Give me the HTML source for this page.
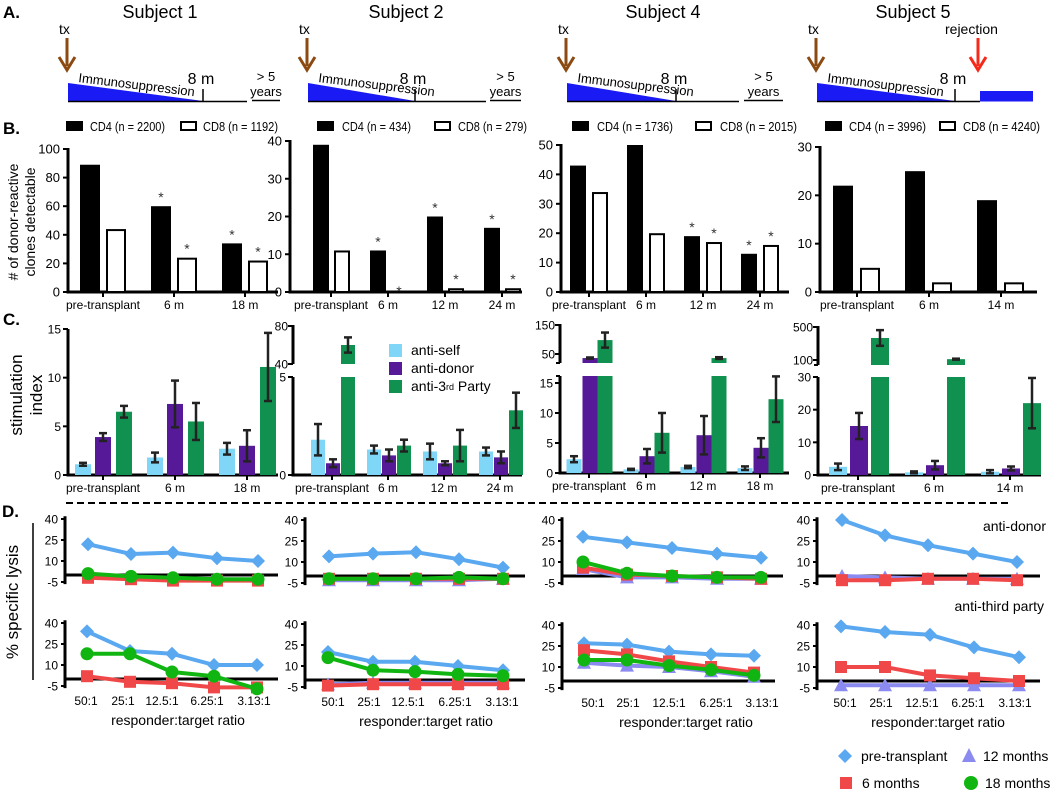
<!DOCTYPE html>
<html><head><meta charset="utf-8"><style>
html,body{margin:0;padding:0;background:#fff;}
svg{display:block;font-family:"Liberation Sans",sans-serif;}
</style></head><body>
<svg id="c" width="1050" height="791" viewBox="0 0 1050 791">
<!-- Panel letters -->
<text x="3" y="18" font-size="17" font-weight="bold">A.</text>
<text x="3" y="134" font-size="17" font-weight="bold">B.</text>
<text x="3" y="325" font-size="17" font-weight="bold">C.</text>
<text x="2" y="517" font-size="17" font-weight="bold">D.</text>
<!-- Subject titles -->
<text x="160" y="18" font-size="18" text-anchor="middle">Subject 1</text>
<text x="406" y="18" font-size="18" text-anchor="middle">Subject 2</text>
<text x="663" y="18" font-size="18" text-anchor="middle">Subject 4</text>
<text x="913" y="18" font-size="18" text-anchor="middle">Subject 5</text>
<g id="timelines"></g>
<!-- B legends -->
<g font-size="13">
<rect x="66" y="121" width="17" height="10" fill="#000"/><text x="90" y="131" textLength="75" lengthAdjust="spacingAndGlyphs">CD4 (n = 2200)</text>
<rect x="181" y="122" width="15" height="8" fill="#fff" stroke="#000" stroke-width="2"/><text x="203" y="131" textLength="75" lengthAdjust="spacingAndGlyphs">CD8 (n = 1192)</text>
<rect x="317" y="121" width="17" height="10" fill="#000"/><text x="342" y="131" textLength="69" lengthAdjust="spacingAndGlyphs">CD4 (n = 434)</text>
<rect x="435" y="122" width="15" height="8" fill="#fff" stroke="#000" stroke-width="2"/><text x="458" y="131" textLength="69" lengthAdjust="spacingAndGlyphs">CD8 (n = 279)</text>
<rect x="572" y="121" width="17" height="10" fill="#000"/><text x="597" y="131" textLength="76" lengthAdjust="spacingAndGlyphs">CD4 (n = 1736)</text>
<rect x="696" y="122" width="15" height="8" fill="#fff" stroke="#000" stroke-width="2"/><text x="720" y="131" textLength="77" lengthAdjust="spacingAndGlyphs">CD8 (n = 2015)</text>
<rect x="825" y="121" width="17" height="10" fill="#000"/><text x="849" y="131" textLength="77" lengthAdjust="spacingAndGlyphs">CD4 (n = 3996)</text>
<rect x="940" y="122" width="15" height="8" fill="#fff" stroke="#000" stroke-width="2"/><text x="963" y="131" textLength="77" lengthAdjust="spacingAndGlyphs">CD8 (n = 4240)</text>
</g>
<text transform="translate(18,222) rotate(-90)" font-size="14" text-anchor="middle">
<tspan x="0" y="0"># of donor-reactive</tspan><tspan x="0" y="17">clones detectable</tspan></text>
<text transform="translate(22,395) rotate(-90)" font-size="17" text-anchor="middle">
<tspan x="0" y="0">stimulation</tspan><tspan x="0" y="20">index</tspan></text>
<!-- C legend -->
<g font-size="14">
<rect x="389" y="344" width="13" height="13" fill="#7fd6f7"/><text x="411" y="355">anti-self</text>
<rect x="389" y="362" width="13" height="13" fill="#561a98"/><text x="411" y="373">anti-donor</text>
<rect x="389" y="380" width="13" height="13" fill="#119150"/><text x="411" y="391">anti-3<tspan font-size="9" dy="-1">rd</tspan><tspan dy="1"> Party</tspan></text>
</g>
<line x1="66" y1="503" x2="1008" y2="503" stroke="#000" stroke-width="2" stroke-dasharray="7,4"/>
<text transform="translate(18,602) rotate(-90)" font-size="17" text-anchor="middle">% specific lysis</text>
<line x1="33" y1="523" x2="33" y2="680" stroke="#000" stroke-width="1.5"/>
<text x="1046" y="531" font-size="14" text-anchor="end">anti-donor</text>
<text x="1044" y="611" font-size="14" text-anchor="end">anti-third party</text>
<!-- D legend -->
<g font-size="14">
<polygon points="845,749 852,756 845,763 838,756" fill="#5aa8f0"/><text x="861" y="761">pre-transplant</text>
<polygon points="969,748 976,762 962,762" fill="#8a8af0"/><text x="983" y="761">12 months</text>
<rect x="840" y="777" width="12" height="12" fill="#f04848"/><text x="862" y="788">6 months</text>
<circle cx="971" cy="783" r="7" fill="#11b511"/><text x="985" y="788">18 months</text>
</g>
<g id="charts"></g>
</svg>
<script>
// ===== Panel B data =====
const B1_cats=['pre-transplant','6 m','18 m'];
const B1_cd4=[89,60,34];
const B1_cd8=[44,24,22];
const B1_star4=[0,1,1];
const B1_star8=[0,1,1];
const B1_ticks=[0,20,40,60,80,100];
const B2_cats=['pre-transplant','6 m','12 m','24 m'];
const B2_cd4=[39,11,20,17];
const B2_cd8=[11,0,1,1];
const B2_star4=[0,1,1,1];
const B2_star8=[0,1,1,1];
const B2_ticks=[0,10,20,30,40];
const B4_cats=['pre-transplant','6 m','12 m','24 m'];
const B4_cd4=[43,50,19,13];
const B4_cd8=[34,20,17,16];
const B4_star4=[0,0,1,1];
const B4_star8=[0,0,1,1];
const B4_ticks=[0,10,20,30,40,50];
const B5_cats=['pre-transplant','6 m','14 m'];
const B5_cd4=[22,25,19];
const B5_cd8=[5,2,2];
const B5_star4=[0,0,0];
const B5_star8=[0,0,0];
const B5_ticks=[0,10,20,30];
// ===== Panel C data =====
const C1_self=[1.1,1.8,2.7], C1_selfErr=[0.15,0.5,0.6];
const C1_donor=[3.9,7.3,3.0], C1_donorErr=[0.4,2.4,1.6];
const C1_third=[6.5,5.5,11.1], C1_thirdErr=[0.6,1.9,3.5];
const C1_ticks=[0,5,10,15];
const C2_self=[1.8,1.3,1.2,1.2], C2_selfErr=[0.8,0.2,0.4,0.2];
const C2_donor=[0.6,1.0,0.6,0.9], C2_donorErr=[0.2,0.3,0.1,0.3];
const C2_third=[60,1.5,1.5,3.3], C2_thirdErr=[8,0.3,0.8,0.9];
const C2_ticks=[0,5], C2_upTicks=[40,80];
const C4_self=[2.3,0.6,1.0,0.8], C4_selfErr=[0.5,0.1,0.2,0.3];
const C4_donor=[36,2.8,6.3,4.2], C4_donorErr=[2,1.2,3.2,1.6];
const C4_third=[98,6.7,36,12.3], C4_thirdErr=[26,3.3,3,3.8];
const C4_ticks=[0,5,10,15], C4_upTicks=[50,150];
const C5_self=[2.5,0.8,1.0], C5_selfErr=[1.0,0.3,0.5];
const C5_donor=[15,3,2], C5_donorErr=[4,1.3,0.6];
const C5_third=[367,110,22], C5_thirdErr=[95,6,7.7];
const C5_ticks=[0,10,20,30], C5_upTicks=[100,500];
// ===== Panel D data =====
const D_ratios=['50:1','25:1','12.5:1','6.25:1','3.13:1'];
const D_ticks=[-5,10,25,40];
const D1a_pre=[22,15,16,12,10], D1a_m6=[-2,-3,-4,-4,-4], D1a_m18=[1,-1,-2,-3,-3];
const D1b_pre=[34,20,18,10,10], D1b_m6=[2,-2,-3,-6,-6], D1b_m18=[18,18,5,2,-7];
const D2a_pre=[14,16,17,12,6], D2a_m6=[-2,-2,-2,-2,-2], D2a_m12=[-3,-3,-3,-3,-2], D2a_m18=[-2,-2,-2,-1,-2];
const D2b_pre=[20,13,13,10,7], D2b_m6=[-4,-3,-3,-3,-3], D2b_m12=[-3,-2,-2,-2,-2], D2b_m18=[16,7,6,4,3];
const D4a_pre=[28,24,20,16,13], D4a_m6=[6,1,0,-1,-2], D4a_m12=[5,-1,-1,-2,-2], D4a_m18=[10,2,0,-1,-1];
const D4b_pre=[27,26,21,19,18], D4b_m6=[22,19,14,10,6], D4b_m12=[13,11,10,7,3], D4b_m18=[15,15,11,8,4];
const D5a_pre=[40,29,22,16,10], D5a_m6=[-3,-3,-2,-2,-3], D5a_m12=[0,-1,-2,-2,-2];
const D5b_pre=[39,35,33,24,17], D5b_m6=[10,10,4,2,0], D5b_m12=[-3,-3,-3,-3,-3];

const NS='http://www.w3.org/2000/svg';
const root=document.getElementById('charts');
function mk(tag,attrs,name,parent){
  const e=document.createElementNS(NS,tag);
  for(const k in attrs) e.setAttribute(k,attrs[k]);
  
  
  (parent||root).appendChild(e);
  return e;
}
function txt(x,y,s,size,anchor,name,extra){
  const t=mk('text',Object.assign({x:x,y:y,'font-size':size,'text-anchor':anchor||'middle'},extra||{}),name);
  t.textContent=s;return t;
}
function line(x1,y1,x2,y2,w,name,col){return mk('line',{x1:x1,y1:y1,x2:x2,y2:y2,stroke:col||'#000','stroke-width':w},name);}

// ===== Timelines =====
const TL=document.getElementById('timelines');
function arrow(x,col,name){
  mk('line',{x1:x,y1:38,x2:x,y2:66,stroke:col,'stroke-width':3},name,TL);
  mk('polyline',{points:(x-8)+',57 '+x+',70 '+(x+8)+',57',fill:'none',stroke:col,'stroke-width':3},name+'-head',TL);
}
function timeline(ax,te,le,ys,ye,name){
  arrow(ax,'#8b4a12','tx-arrow');
  const t=mk('text',{x:ax-8,y:34,'font-size':14},'tx-label',TL);t.textContent='tx';
  mk('polygon',{points:(ax+1)+',83 '+te+',101 '+(ax+1)+',101',fill:'#1a1af5'},'immunosuppression-wedge',TL);
  mk('line',{x1:ax+1,y1:101.5,x2:le,y2:101.5,stroke:'#000','stroke-width':1.5},'timeline-axis',TL);
  mk('line',{x1:te,y1:89,x2:te,y2:102,stroke:'#000','stroke-width':1.5},'8-month-tick',TL);
  const im=mk('text',{x:ax+11,y:82,'font-size':13,transform:'rotate(7 '+(ax+11)+' 82)'},'immunosuppression-label',TL);im.textContent='Immunosuppression';
  const m=mk('text',{x:te-2,y:84,'font-size':16,'text-anchor':'middle'},'8-month-label',TL);m.textContent='8 m';
  if(ys){
    mk('line',{x1:ys,y1:100.5,x2:ye,y2:100.5,stroke:'#000','stroke-width':1.5},'late-segment',TL);
    const y1=mk('text',{x:(ys+ye)/2,y:81,'font-size':13,'text-anchor':'middle'},'years-label',TL);y1.textContent='> 5';
    const y2=mk('text',{x:(ys+ye)/2,y:96,'font-size':13,'text-anchor':'middle'},'years-label',TL);y2.textContent='years';
  }
}
timeline(67,203,247,252,280,'s1');
timeline(307,415,486,490,521,'s2');
timeline(566,676,739,744,783,'s4');
timeline(816,955,980,null,null,'s5');
mk('rect',{x:980,y:91,width:53,height:10.5,fill:'#1a1af5'},'rejection-immunosuppression',TL);
arrow(978,'#f52a1a','rejection-arrow');
{const r=mk('text',{x:945,y:34,'font-size':14},'rejection-label',TL);r.textContent='rejection';}

// ===== Panel B =====
function drawB(c){
  const y=v=>c.y0-(v/c.max)*(c.y0-c.yTop);
  line(c.ax,c.yTop-1,c.ax,c.y0+1.5,3,'b-y-axis');
  line(c.ax-1.5,c.y0,c.axEnd,c.y0,3,'b-x-axis');
  c.ticks.forEach(t=>{line(c.ax-5,y(t),c.ax,y(t),2,'b-y-tick');txt(c.ax-8,y(t)+4.5,String(t),13,'end','b-y-tick-label');});
  c.cats.forEach((cat,i)=>{
    const cx=c.cx0+i*c.step;
    line(cx,c.y0,cx,c.y0+5,2,'b-x-tick');
    txt(cx,c.y0+17,cat,12,'middle','b-x-label');
    const v4=c.cd4[i], v8=c.cd8[i];
    mk('rect',{x:cx+c.o4-c.w/2,y:y(v4),width:c.w,height:c.y0-y(v4),fill:'#000'},'cd4-bar');
    if(v8>0){
      mk('rect',{x:cx+c.o8-c.w/2+1,y:y(v8)+1,width:c.w-2,height:Math.max(0,c.y0-y(v8)-1),fill:v8<=1.5?'#bbb':'#fff',stroke:'#000','stroke-width':2},'cd8-bar');
    }
    if(c.s4[i]) txt(cx+c.o4,y(v4)-4,'*',14,'middle','cd4-significance-star',{fill:'#333'});
    if(c.s8[i]) txt(cx+c.o8,y(v8)-4+(v8===0?8:0),'*',14,'middle','cd8-significance-star',{fill:'#333'});
  });
}
drawB({ax:68,axEnd:278,y0:292,yTop:149,max:100,ticks:B1_ticks,cats:B1_cats,cd4:B1_cd4,cd8:B1_cd8,s4:B1_star4,s8:B1_star8,cx0:103,step:71,o4:-13,o8:13,w:20});
drawB({ax:290,axEnd:522,y0:292,yTop:141,max:40,ticks:B2_ticks,cats:B2_cats,cd4:B2_cd4,cd8:B2_cd8,s4:B2_star4,s8:B2_star8,cx0:331,step:57,o4:-10,o8:11,w:16});
drawB({ax:561,axEnd:789,y0:292,yTop:145,max:50,ticks:B4_ticks,cats:B4_cats,cd4:B4_cd4,cd8:B4_cd8,s4:B4_star4,s8:B4_star8,cx0:589,step:57,o4:-11,o8:11,w:16});
drawB({ax:820,axEnd:1037,y0:292,yTop:147,max:30,ticks:B5_ticks,cats:B5_cats,cd4:B5_cd4,cd8:B5_cd8,s4:B5_star4,s8:B5_star8,cx0:857,step:72,o4:-14,o8:13,w:20});

// ===== Panel C =====
const CCOL=['#7fd6f7','#561a98','#119150'];
function drawC(c){
  const yL=v=>c.y0-(v/c.lmax)*(c.y0-c.lTopPx);
  const yU=v=>c.uBotPx-(v-c.uBotVal)/(c.uTopVal-c.uBotVal)*(c.uBotPx-c.uTopPx);
  const lowTop=c.lTop!==undefined?c.lTop:c.lTopPx;
  line(c.ax,lowTop,c.ax,c.y0+1.5,3,'c-y-axis');
  line(c.ax-1.5,c.y0,c.axEnd,c.y0,3,'c-x-axis');
  c.ticks.forEach(t=>{line(c.ax-5,yL(t),c.ax,yL(t),2,'c-y-tick');txt(c.ax-7,yL(t)+4.5,String(t),12,'end','c-y-tick-label');});
  if(c.up){
    line(c.ax,yU(c.uTopVal)-1,c.ax,c.uBot2,3,'c-upper-y-axis');
    c.up.forEach(t=>{line(c.ax-5,yU(t),c.ax,yU(t),2,'c-upper-y-tick');txt(c.ax-5,yU(t)+4.5,String(t),12,'end','c-upper-y-tick-label');});
    line(c.ax-4,c.uBot2,c.ax,c.uBot2,2,'c-break-tick');
    line(c.ax-4,lowTop,c.ax,lowTop,2,'c-break-tick');
  }
  const lmaxVal=c.lmax*(c.y0-lowTop)/(c.y0-c.lTopPx);
  c.series.forEach((s,k)=>{
    s.v.forEach((v,i)=>{
      const cx=c.cx0+i*c.step+c.off[k], x=cx-c.w/2;
      let topY, eh, el;
      if(v<=lmaxVal){
        topY=yL(v);
        mk('rect',{x:x,y:topY,width:c.w,height:c.y0-topY,fill:CCOL[k]},'c-bar-'+s.n);
        eh=yL(v+s.e[i]);el=yL(Math.max(0,v-s.e[i]));
      } else {
        mk('rect',{x:x,y:lowTop,width:c.w,height:c.y0-lowTop,fill:CCOL[k]},'c-bar-'+s.n+'-lower');
        topY=yU(v);
        mk('rect',{x:x,y:topY,width:c.w,height:c.uBot2-topY,fill:CCOL[k]},'c-bar-'+s.n+'-upper');
        eh=yU(v+s.e[i]);el=yU(v-s.e[i]);
      }
      line(cx,eh,cx,el,2.5,'c-error-bar','#222');
      line(cx-4,eh,cx+4,eh,2.5,'c-error-cap','#222');
      line(cx-4,el,cx+4,el,2.5,'c-error-cap','#222');
    });
  });
  for(let i=0;i<c.n;i++) line(c.cx0+i*c.step,c.y0,c.cx0+i*c.step,c.y0+5,2,'c-x-tick');
  c.cats.forEach((cat,i)=>txt(c.cx0+i*c.step,c.y0+17,cat,12,'middle','c-x-label'));
}
drawC({ax:68,axEnd:278,y0:475,lmax:15,lTopPx:329,ticks:C1_ticks,cx0:103,step:72,n:3,w:16,off:[-20,0,21],cats:B1_cats,
  series:[{n:'anti-self',v:C1_self,e:C1_selfErr},{n:'anti-donor',v:C1_donor,e:C1_donorErr},{n:'anti-3rd',v:C1_third,e:C1_thirdErr}]});
drawC({ax:293,axEnd:522,y0:475,lmax:5,lTopPx:377,ticks:C2_ticks,up:C2_upTicks,uBotVal:40,uTopVal:80,uBotPx:364,uTopPx:326,uBot2:364,cx0:332,step:56,n:4,w:14,off:[-14,1,16],cats:B2_cats,
  series:[{n:'anti-self',v:C2_self,e:C2_selfErr},{n:'anti-donor',v:C2_donor,e:C2_donorErr},{n:'anti-3rd',v:C2_third,e:C2_thirdErr}]});
drawC({ax:560,axEnd:789,y0:473,lmax:15,lTopPx:383,lTop:376,ticks:C4_ticks,up:C4_upTicks,uBotVal:50,uTopVal:150,uBotPx:354,uTopPx:325,uBot2:363,cx0:589,step:57,n:4,w:15,off:[-15,1,16],cats:['pre-transplant','6 m','12 m','18 m'],
  series:[{n:'anti-self',v:C4_self,e:C4_selfErr},{n:'anti-donor',v:C4_donor,e:C4_donorErr},{n:'anti-3rd',v:C4_third,e:C4_thirdErr}]});
drawC({ax:818,axEnd:1041,y0:475,lmax:30,lTopPx:377,ticks:C5_ticks,up:C5_upTicks,uBotVal:100,uTopVal:500,uBotPx:360,uTopPx:327,uBot2:365,cx0:858,step:76,n:3,w:18,off:[-20,1,22],cats:B5_cats,
  series:[{n:'anti-self',v:C5_self,e:C5_selfErr},{n:'anti-donor',v:C5_donor,e:C5_donorErr},{n:'anti-3rd',v:C5_third,e:C5_thirdErr}]});

// ===== Panel D =====
const DCOL={pre:'#5aa8f0',m6:'#f04848',m12:'#8a8af0',m18:'#11b511'};
function marker(kind,x,y){
  if(kind==='pre') mk('polygon',{points:x+','+(y-7)+' '+(x+7)+','+y+' '+x+','+(y+7)+' '+(x-7)+','+y,fill:DCOL.pre},'pre-transplant-point');
  else if(kind==='m6') mk('rect',{x:x-6,y:y-6,width:12,height:12,fill:DCOL.m6},'6-months-point');
  else if(kind==='m12') mk('polygon',{points:x+','+(y-7)+' '+(x+7)+','+(y+6)+' '+(x-7)+','+(y+6),fill:DCOL.m12},'12-months-point');
  else mk('circle',{cx:x,cy:y,r:6.5,fill:DCOL.m18},'18-months-point');
}
function drawD(c){
  const y=v=>c.y0-v*1.4;
  line(c.ax,y(42),c.ax,y(-6.5),3,'d-y-axis');
  D_ticks.forEach(t=>{line(c.ax-4,y(t),c.ax,y(t),2,'d-y-tick');txt(c.ax-7,y(t)+4.5,String(t),12,'end','d-y-tick-label');});
  line(c.ax,c.y0,c.axEnd,c.y0,3,'d-zero-line');
  ['m12','pre','m6','m18'].forEach(k=>{
    const vals=c.s[k]; if(!vals) return;
    const pts=vals.map((v,i)=>c.xs[i]+','+y(v)).join(' ');
    mk('polyline',{points:pts,fill:'none',stroke:DCOL[k],'stroke-width':4,'stroke-linejoin':'round'},'d-line-'+k);
    vals.forEach((v,i)=>marker(k,c.xs[i],y(v)));
  });
  if(c.lx){
    D_ratios.forEach((r,i)=>txt(c.lx[i],c.y0+26,r,12,'middle','d-x-tick-label'));
    txt(c.tx,c.y0+46,'responder:target  ratio',14,'middle','d-x-title');
  }
}
drawD({ax:65,axEnd:278,y0:575,xs:[88,131,173,217,258],s:{pre:D1a_pre,m6:D1a_m6,m18:D1a_m18}});
drawD({ax:65,axEnd:278,y0:679,xs:[87,130,172,214,257],s:{pre:D1b_pre,m6:D1b_m6,m18:D1b_m18},lx:[86,123,162,207,254],tx:178});
drawD({ax:305,axEnd:525,y0:576,xs:[329,373,416,459,503],s:{pre:D2a_pre,m6:D2a_m6,m12:D2a_m12,m18:D2a_m18}});
drawD({ax:305,axEnd:525,y0:680,xs:[328,373,415,458,503],s:{pre:D2b_pre,m6:D2b_m6,m12:D2b_m12,m18:D2b_m18},lx:[333,369,408,455,502],tx:426});
drawD({ax:562,axEnd:783,y0:576,xs:[583,627,672,717,761],s:{pre:D4a_pre,m6:D4a_m6,m12:D4a_m12,m18:D4a_m18}});
drawD({ax:562,axEnd:775,y0:681,xs:[584,627,669,711,754],s:{pre:D4b_pre,m6:D4b_m6,m12:D4b_m12,m18:D4b_m18},lx:[593,628,669,716,762],tx:686});
drawD({ax:817,axEnd:1040,y0:576,xs:[842,885,928,973,1017],s:{pre:D5a_pre,m6:D5a_m6,m12:D5a_m12}});
drawD({ax:817,axEnd:1040,y0:681,xs:[841,885,930,974,1019],s:{pre:D5b_pre,m6:D5b_m6,m12:D5b_m12},lx:[845,881,922,968,1015],tx:938});
</script>
</body></html>
